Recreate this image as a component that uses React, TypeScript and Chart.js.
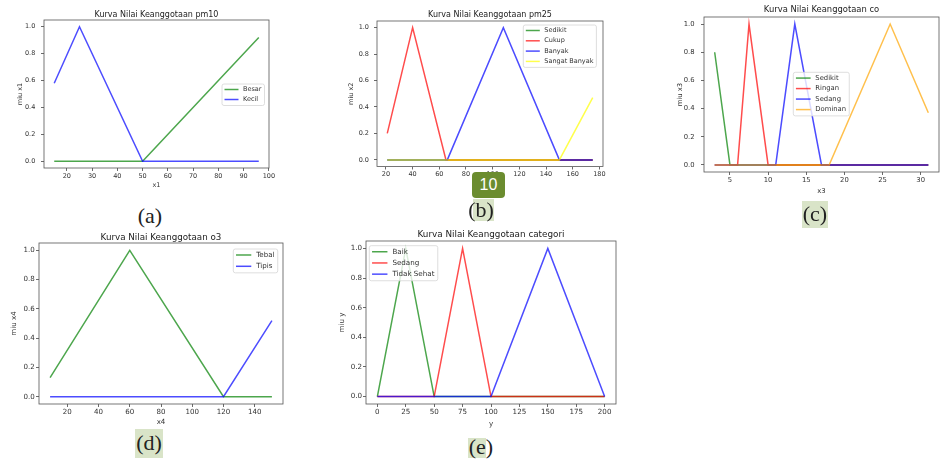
import React, { useEffect, useRef } from "react";
import { Chart, registerables } from "chart.js";

Chart.register(...registerables);

// ---------- data ----------
const yTicks = [0, 0.2, 0.4, 0.6, 0.8, 1.0];

// (a) pm10
const pm10Ticks = [20, 30, 40, 50, 60, 70, 80, 90, 100];
const pm10X = [15, 25, 50, 96];
const pm10Besar = [0, 0, 0, 0.92];
const pm10Kecil = [0.58, 1, 0, 0];

// (b) pm25
const pm25Ticks = [20, 40, 60, 80, 100, 120, 140, 160, 180];
const pm25X = [21, 40, 65, 66, 108, 150, 175];
const pm25Sedikit = [0, 0, 0, 0, 0, 0, 0];
const pm25Cukup = [0.2, 1, 0, 0, 0, 0, 0];
const pm25Banyak = [0, 0, 0, 0, 1, 0, 0];
const pm25SangatBanyak = [0, 0, 0, 0, 0, 0, 0.47];

// (c) co
const coTicks = [5, 10, 15, 20, 25, 30];
const coX = [3, 5, 6, 7.5, 10, 11, 13.5, 17, 18, 26, 31];
const coSedikit = [0.8, 0, 0, 0, 0, 0, 0, 0, 0, 0, 0];
const coRingan = [0, 0, 0, 1, 0, 0, 0, 0, 0, 0, 0];
const coSedang = [0, 0, 0, 0, 0, 0, 1, 0, 0, 0, 0];
const coDominan = [0, 0, 0, 0, 0, 0, 0, 0, 0, 1, 0.37];

// (d) o3
const o3Ticks = [20, 40, 60, 80, 100, 120, 140];
const o3X = [9, 60, 120, 151];
const o3Tebal = [0.13, 1, 0, 0];
const o3Tipis = [0, 0, 0, 0.52];

// (e) categori
const catTicks = [0, 25, 50, 75, 100, 125, 150, 175, 200];
const catX = [0, 25, 50, 75, 100, 150, 200];
const catBaik = [0, 1, 0, 0, 0, 0, 0];
const catSedang = [0, 0, 0, 1, 0, 0, 0];
const catTidakSehat = [0, 0, 0, 0, 0, 1, 0];

// ---------- styles ----------
const GREEN = "rgba(0,128,0,0.7)";
const RED = "rgba(255,0,0,0.7)";
const BLUE = "rgba(0,0,255,0.7)";
const ORANGE = "rgba(255,165,0,0.7)";
const YELLOW = "rgba(255,255,0,0.7)";
const FONT = '"DejaVu Sans", sans-serif';
const TITLE_SIZE = 8;
const TICK_SIZE = 6.5;
const TEXT = "#333";

type Series = { label: string; color: string; x: number[]; y: number[] };
type Panel = {
  title: string;
  xLabel: string;
  yLabel: string;
  xTicks: number[];
  series: Series[];
  k: number;
  L: number; T: number; R: number; B: number;
  yTitleX: number; xTitleY: number; titleY: number;
  yTickGap: number;
  legend: { left: number; top: number; rowH: number };
};

const panels: Panel[] = [
  {
    title: "Kurva Nilai Keanggotaan pm10", xLabel: "x1", yLabel: "miu x1", xTicks: pm10Ticks,
    series: [
      { label: "Besar", color: GREEN, x: pm10X, y: pm10Besar },
      { label: "Kecil", color: BLUE, x: pm10X, y: pm10Kecil },
    ],
    k: 1,
    L: 44, T: 20, R: 269, B: 168, yTitleX: 20.8, xTitleY: 185.7, titleY: 15.3, yTickGap: 8.7,
    legend: { left: 222, top: 84, rowH: 10 },
  },
  {
    title: "Kurva Nilai Keanggotaan pm25", xLabel: "x2", yLabel: "miu x2", xTicks: pm25Ticks,
    series: [
      { label: "Sedikit", color: GREEN, x: pm25X, y: pm25Sedikit },
      { label: "Cukup", color: RED, x: pm25X, y: pm25Cukup },
      { label: "Banyak", color: BLUE, x: pm25X, y: pm25Banyak },
      { label: "Sangat Banyak", color: YELLOW, x: pm25X, y: pm25SangatBanyak },
    ],
    k: 1,
    L: 377, T: 21, R: 603, B: 166.5, yTitleX: 351.7, xTitleY: 186, titleY: 14.7, yTickGap: 8,
    legend: { left: 523.3, top: 25, rowH: 10.3 },
  },
  {
    title: "Kurva Nilai Keanggotaan co", xLabel: "x3", yLabel: "miu x3", xTicks: coTicks,
    series: [
      { label: "Sedikit", color: GREEN, x: coX, y: coSedikit },
      { label: "Ringan", color: RED, x: coX, y: coRingan },
      { label: "Sedang", color: BLUE, x: coX, y: coSedang },
      { label: "Dominan", color: ORANGE, x: coX, y: coDominan },
    ],
    k: 1.05,
    L: 704, T: 17, R: 939, B: 172, yTitleX: 680, xTitleY: 191, titleY: 10, yTickGap: 9.5,
    legend: { left: 793.3, top: 72.3, rowH: 10.5 },
  },
  {
    title: "Kurva Nilai Keanggotaan o3", xLabel: "x4", yLabel: "miu x4", xTicks: o3Ticks,
    series: [
      { label: "Tebal", color: GREEN, x: o3X, y: o3Tebal },
      { label: "Tipis", color: BLUE, x: o3X, y: o3Tipis },
    ],
    k: 1.09,
    L: 39, T: 243, R: 283, B: 404, yTitleX: 14.2, xTitleY: 422.3, titleY: 237.3, yTickGap: 4.3,
    legend: { left: 233.3, top: 249, rowH: 11.3 },
  },
  {
    title: "Kurva Nilai Keanggotaan categori", xLabel: "y", yLabel: "miu y", xTicks: catTicks,
    series: [
      { label: "Baik", color: GREEN, x: catX, y: catBaik },
      { label: "Sedang", color: RED, x: catX, y: catSedang },
      { label: "Tidak Sehat", color: BLUE, x: catX, y: catTidakSehat },
    ],
    k: 1.1,
    L: 366, T: 241, R: 616, B: 404, yTitleX: 342.5, xTitleY: 424, titleY: 235, yTickGap: 4,
    legend: { left: 369.3, top: 245.7, rowH: 11.2 },
  },
];

// ---------- plugins ----------
const framePlugin = {
  id: "mplFrame",
  afterDatasetsDraw(chart: any) {
    const { ctx, chartArea: a } = chart;
    ctx.save();
    ctx.strokeStyle = "#555";
    ctx.lineWidth = 0.8;
    ctx.strokeRect(a.left, a.top, a.right - a.left, a.bottom - a.top);
    ctx.restore();
  },
};

const legendPlugin = {
  id: "mplLegend",
  afterDraw(chart: any, _args: any, opts: any) {
    const { ctx } = chart;
    const left = opts.left;
    const top = opts.top;
    const rowH = opts.rowH;
    const k = opts.k;
    const sets = chart.data.datasets;
    ctx.save();
    ctx.font = `${TICK_SIZE * k}px ${FONT}`;
    const tw = Math.max(...sets.map((d: any) => ctx.measureText(d.label).width));
    const textX = 21 * k;
    const w = textX + tw + 3 * k;
    const first = 5.5 * k;
    const h = first + (sets.length - 1) * rowH + 6 * k;
    const r = 2;
    ctx.beginPath();
    ctx.moveTo(left + r, top);
    ctx.lineTo(left + w - r, top);
    ctx.quadraticCurveTo(left + w, top, left + w, top + r);
    ctx.lineTo(left + w, top + h - r);
    ctx.quadraticCurveTo(left + w, top + h, left + w - r, top + h);
    ctx.lineTo(left + r, top + h);
    ctx.quadraticCurveTo(left, top + h, left, top + h - r);
    ctx.lineTo(left, top + r);
    ctx.quadraticCurveTo(left, top, left + r, top);
    ctx.closePath();
    ctx.fillStyle = "rgba(255,255,255,0.8)";
    ctx.fill();
    ctx.strokeStyle = "#d6d6d6";
    ctx.lineWidth = 0.8;
    ctx.stroke();
    sets.forEach((d: any, i: number) => {
      const y = top + first + i * rowH;
      ctx.strokeStyle = d.borderColor;
      ctx.lineWidth = 1.5;
      ctx.beginPath();
      ctx.moveTo(left + 2.5 * k, y);
      ctx.lineTo(left + 16.5 * k, y);
      ctx.stroke();
      ctx.fillStyle = TEXT;
      ctx.textAlign = "left";
      ctx.textBaseline = "middle";
      ctx.fillText(d.label, left + textX, y);
    });
    ctx.restore();
  },
};

function PanelChart({ p }: { p: Panel }) {
  const ref = useRef<HTMLCanvasElement | null>(null);
  const cl = Math.round(p.yTitleX - 6);
  const cr = Math.min(943, Math.round(p.R + 10));
  const ct = Math.max(0, Math.round(p.titleY - 6));
  const cb = Math.round(p.xTitleY + 6);
  const cw = cr - cl;
  const ch = cb - ct;

  useEffect(() => {
    if (!ref.current) return;
    const allX = p.series.flatMap((s) => s.x);
    const dMin = Math.min(...allX);
    const dMax = Math.max(...allX);
    const m = (dMax - dMin) * 0.05;
    const W = p.L - cl;
    const H = cb - p.B;
    const padR = cr - p.R;
    const titleSize = TITLE_SIZE * p.k;
    const tickSize = TICK_SIZE * p.k;
    const tLH = titleSize * 1.2;
    const pt = p.titleY - ct - tLH / 2;
    const pb = p.T - ct - tLH - pt;
    const aLH = tickSize * 1.2;
    const yTitlePad = p.yTitleX - cl - aLH / 2;
    const xTitlePad = cb - p.xTitleY - aLH / 2;
    const tickFont = { family: FONT, size: tickSize };
    const zeroPad = (s: any) => {
      s.paddingLeft = 0; s.paddingRight = 0; s.paddingTop = 0; s.paddingBottom = 0;
    };
    const n = p.series.length;

    const chart = new Chart(ref.current, {
      type: "line",
      data: {
        datasets: p.series.map((s, i) => ({
          label: s.label,
          data: s.x.map((x, j) => ({ x, y: s.y[j] })),
          borderColor: s.color,
          backgroundColor: s.color,
          borderWidth: 1.5,
          pointRadius: 0,
          tension: 0,
          fill: false,
          order: n - i,
        })),
      },
      options: {
        animation: false,
        responsive: false,
        maintainAspectRatio: false,
        layout: { padding: { left: 0, right: padR, top: 0, bottom: 0 } },
        plugins: {
          legend: { display: false },
          tooltip: { enabled: false },
          title: {
            display: true,
            text: p.title,
            fullSize: false,
            color: "#222",
            font: { family: FONT, size: titleSize, weight: "normal" as any },
            padding: { top: pt, bottom: pb },
          },
          mplLegend: { left: p.legend.left - cl, top: p.legend.top - ct, rowH: p.legend.rowH, k: p.k },
        } as any,
        scales: {
          x: {
            type: "linear",
            min: dMin - m,
            max: dMax + m,
            afterBuildTicks: (s: any) => { s.ticks = p.xTicks.map((v) => ({ value: v })); },
            afterFit: (s: any) => { s.height = H; zeroPad(s); },
            grid: { display: true, drawOnChartArea: false, drawTicks: true, tickLength: 3, color: "#444", lineWidth: 0.8 },
            border: { display: false },
            ticks: {
              autoSkip: false, maxRotation: 0, minRotation: 0, padding: 1,
              color: TEXT, font: tickFont,
              callback: (v: any) => String(v),
            },
            title: {
              display: true, text: p.xLabel, color: TEXT, font: tickFont,
              padding: { top: 0, bottom: xTitlePad },
            },
          },
          y: {
            type: "linear",
            min: -0.05,
            max: 1.05,
            afterBuildTicks: (s: any) => { s.ticks = yTicks.map((v) => ({ value: v })); },
            afterFit: (s: any) => { s.width = W; zeroPad(s); },
            grid: { display: true, drawOnChartArea: false, drawTicks: true, tickLength: 3, color: "#444", lineWidth: 0.8 },
            border: { display: false },
            ticks: {
              autoSkip: false, padding: Math.max(0, p.yTickGap - 3),
              color: TEXT, font: tickFont,
              callback: (v: any) => Number(v).toFixed(1),
            },
            title: {
              display: true, text: p.yLabel, color: TEXT, font: tickFont,
              padding: { top: yTitlePad, bottom: 0 },
            },
          },
        },
      } as any,
      plugins: [framePlugin, legendPlugin],
    });
    return () => chart.destroy();
  }, []);

  return (
    <canvas
      ref={ref}
      width={cw}
      height={ch}
      style={{ position: "absolute", left: cl, top: ct, width: cw, height: ch }}
    />
  );
}

const HL = "#d9e4c8";

function Caption({ text, cx, cy }: { text: string; cx: number; cy: number }) {
  return (
    <div
      style={{
        position: "absolute",
        left: cx - 30,
        top: cy - 14,
        width: 60,
        height: 28,
        lineHeight: "28px",
        textAlign: "center",
        fontFamily: '"Liberation Serif", "Times New Roman", serif',
        fontSize: 22,
        color: "#222",
      }}
    >
      {text}
    </div>
  );
}

function Highlight({ x, y, w, h }: { x: number; y: number; w: number; h: number }) {
  return <div style={{ position: "absolute", left: x, top: y, width: w, height: h, background: HL }} />;
}

export default function App() {
  return (
    <div
      style={{
        position: "absolute",
        left: 0,
        top: 0,
        width: 943,
        height: 466,
        background: "#fff",
        overflow: "hidden",
      }}
    >
      <Highlight x={473} y={199} w={21} h={22} />
      <Highlight x={802} y={201} w={26} h={27} />
      <Highlight x={135} y={429} w={28} h={29} />
      <Highlight x={468} y={438} w={18} h={20} />
      {panels.map((p, i) => (
        <PanelChart key={i} p={p} />
      ))}
      <Caption text="(a)" cx={150} cy={216} />
      <Caption text="(b)" cx={481} cy={210} />
      <Caption text="(c)" cx={815} cy={214} />
      <Caption text="(d)" cx={149} cy={443} />
      <Caption text="(e)" cx={481} cy={447} />
      <div
        style={{
          position: "absolute",
          left: 472,
          top: 172,
          width: 33,
          height: 26,
          borderRadius: 4,
          background: "#6b8c2f",
          color: "#fff",
          fontFamily: '"Liberation Sans", Arial, sans-serif',
          fontSize: 16,
          lineHeight: "26px",
          textAlign: "center",
        }}
      >
        10
      </div>
    </div>
  );
}
